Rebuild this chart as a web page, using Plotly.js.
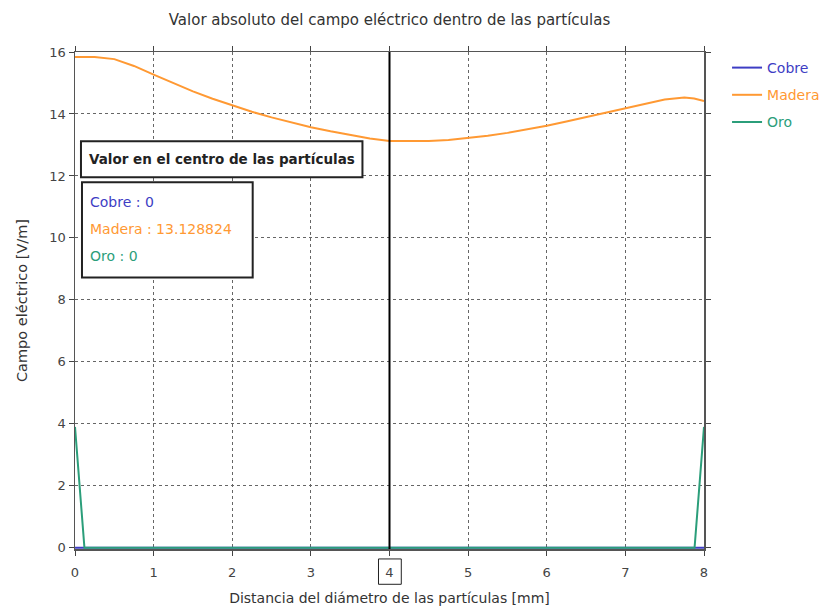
<!DOCTYPE html>
<html>
<head>
<meta charset="utf-8">
<script src="https://cdn.plot.ly/plotly-3.0.1.min.js"></script>
<style>html,body{margin:0;padding:0;background:#fff;}#chart{width:836px;height:611px;}</style>
</head>
<body>
<div id="chart"></div>
<script>
// ---- data ----
const seriesNames = ["Cobre", "Madera", "Oro"];
const seriesColors = ["#3d3dc4", "#ff9933", "#2b9e7a"];

const cobreX = [0, 8];
const cobreY = [0, 0];

const maderaX = [0, 0.25, 0.5, 0.75, 1, 1.25, 1.5, 1.75, 2, 2.25, 2.5, 2.75, 3, 3.25, 3.5, 3.75,
                 4, 4.25, 4.5, 4.75, 5, 5.25, 5.5, 5.75, 6, 6.25, 6.5, 6.75, 7, 7.25, 7.5, 7.75, 7.875, 8];
const maderaY = [15.84, 15.84, 15.77, 15.55, 15.27, 15.0, 14.73, 14.49, 14.27, 14.07, 13.89, 13.72, 13.57, 13.44, 13.32, 13.21,
                 13.13, 13.12, 13.13, 13.16, 13.22, 13.3, 13.39, 13.5, 13.62, 13.76, 13.9, 14.04, 14.18, 14.34, 14.47, 14.53, 14.5, 14.42];

const oroX = [0, 0.12, 7.88, 8];
const oroY = [3.9, 0, 0, 3.9];

const centerX = 4;
const centerValues = ["0", "13.128824", "0"];

const xTicks = [0, 1, 2, 3, 4, 5, 6, 7, 8];
const yTicks = [0, 2, 4, 6, 8, 10, 12, 14, 16];

const titleText = "Valor absoluto del campo eléctrico dentro de las partículas";
const xTitle = "Distancia del diámetro de las partículas [mm]";
const yTitle = "Campo eléctrico [V/m]";
const boxTitle = "Valor en el centro de las partículas";

// ---- chart ----
const FONT = "DejaVu Sans, Verdana, sans-serif";
const xs = [cobreX, maderaX, oroX];
const ys = [cobreY, maderaY, oroY];

const traces = seriesNames.map((n, i) => ({
  type: "scatter", mode: "lines", name: n,
  x: xs[i], y: ys[i],
  line: {color: seriesColors[i], width: 2},
  legendgroup: n
}));

const axisCommon = {
  showline: true, linecolor: "#555", linewidth: 1.5, mirror: "ticks",
  ticks: "outside", ticklen: 5, tickcolor: "#444", tickwidth: 1,
  showgrid: true, gridcolor: "#666", gridwidth: 1, griddash: "3px,3px",
  zeroline: false, tickfont: {family: FONT, size: 13, color: "#444"},
  fixedrange: true
};

const annotations = [
  {xref: "paper", yref: "paper", x: 0.019, y: 0.784, xanchor: "left", yanchor: "middle",
   text: "<b>" + boxTitle + "</b>", showarrow: false,
   font: {family: FONT, size: 13.5, color: "#222"}}
];
const lineYs = [0.6976, 0.6431, 0.5887];
seriesNames.forEach((n, i) => {
  annotations.push({xref: "paper", yref: "paper", x: 0.0206, y: lineYs[i], xanchor: "left", yanchor: "middle",
    text: n + " : " + centerValues[i], showarrow: false,
    font: {family: FONT, size: 14, color: seriesColors[i]}});
});

const shapes = [
  {type: "line", xref: "x", yref: "paper", x0: centerX, x1: centerX, y0: 0, y1: 1,
   line: {color: "#000", width: 2}, layer: "above"},
  {type: "rect", xref: "paper", yref: "paper", x0: 0.0095, x1: 0.457, y0: 0.748, y1: 0.8206,
   line: {color: "#222", width: 2}, fillcolor: "#fff", layer: "above"},
  {type: "rect", xref: "paper", yref: "paper", x0: 0.0111, x1: 0.2825, y0: 0.5464, y1: 0.7379,
   line: {color: "#222", width: 2}, fillcolor: "#fff", layer: "above"},
  {type: "rect", xref: "x", yref: "paper", x0: centerX - 0.14, x1: centerX + 0.15, y0: -0.071, y1: -0.020,
   line: {color: "#222", width: 1}}
];

const layout = {
  width: 836, height: 611,
  margin: {l: 75, r: 131, t: 52, b: 62},
  paper_bgcolor: "#fff", plot_bgcolor: "#fff",
  title: {text: titleText, x: 0.5, xref: "paper", y: 0.968, yanchor: "middle",
          font: {family: FONT, size: 15, color: "#333"}},
  xaxis: Object.assign({}, axisCommon, {
    range: [0, 8], tickvals: xTicks, ticklabelstandoff: 6,
    title: {text: xTitle, font: {family: FONT, size: 14, color: "#333"}, standoff: 14}
  }),
  yaxis: Object.assign({}, axisCommon, {
    range: [-0.04, 16], tickvals: yTicks,
    title: {text: yTitle, font: {family: FONT, size: 14.5, color: "#333"}, standoff: 18}
  }),
  legend: {x: 1.035, y: 1.0, xanchor: "left", yanchor: "top", tracegroupgap: 6,
           traceorder: "grouped", bgcolor: "rgba(0,0,0,0)",
           font: {family: FONT, size: 14}},
  showlegend: true,
  annotations: annotations,
  shapes: shapes
};

Plotly.newPlot("chart", traces, layout, {displayModeBar: false, staticPlot: true}).then(() => {
  // color legend texts like their lines
  document.querySelectorAll(".legend .traces").forEach((g, i) => {
    const t = g.querySelector("text.legendtext");
    if (t) t.style.fill = seriesColors[i];
  });
});
</script>
</body>
</html>
